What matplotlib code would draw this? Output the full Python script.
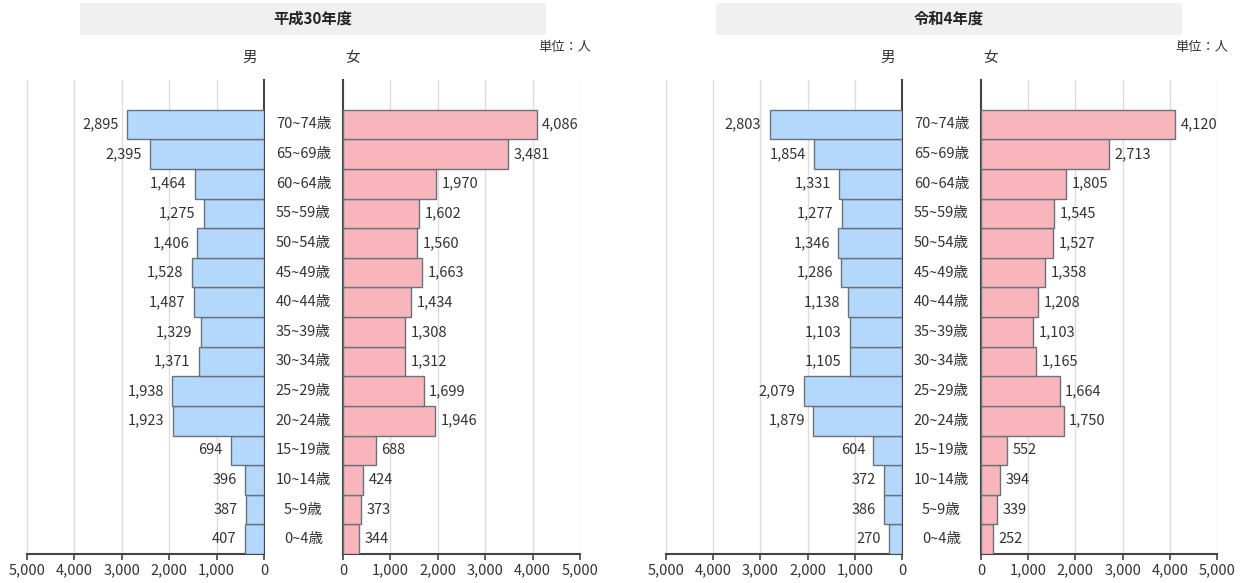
import matplotlib
matplotlib.use("Agg")
import matplotlib.pyplot as plt
from matplotlib.patches import Rectangle
from matplotlib.ticker import FuncFormatter
from matplotlib.transforms import blended_transform_factory

plt.rcParams['font.family'] = ['Noto Sans CJK JP', 'DejaVu Sans']

ages = ["0~4歳", "5~9歳", "10~14歳", "15~19歳", "20~24歳", "25~29歳", "30~34歳",
        "35~39歳", "40~44歳", "45~49歳", "50~54歳", "55~59歳", "60~64歳", "65~69歳", "70~74歳"]

h30_male = [407, 387, 396, 694, 1923, 1938, 1371, 1329, 1487, 1528, 1406, 1275, 1464, 2395, 2895]
h30_female = [344, 373, 424, 688, 1946, 1699, 1312, 1308, 1434, 1663, 1560, 1602, 1970, 3481, 4086]
r4_male = [270, 386, 372, 604, 1879, 2079, 1105, 1103, 1138, 1286, 1346, 1277, 1331, 1854, 2803]
r4_female = [252, 339, 394, 552, 1750, 1664, 1165, 1103, 1208, 1358, 1527, 1545, 1805, 2713, 4120]

titles = ["平成30年度", "令和4年度"]
ticks = [0, 1000, 2000, 3000, 4000, 5000]

W, H = 1242, 583
fig = plt.figure(figsize=(W / 100, H / 100), dpi=100)

MALE_C = "#B3D8FB"
FEMALE_C = "#F8B6BC"
EDGE = "#6A717A"
TXT = "#333333"
FS = 10.5
fmt = FuncFormatter(lambda v, p: f"{int(v):,}")

def fx(px):
    return px / W

def fy(py):
    return 1 - py / H

y_top, y_bot = 80, 554

panels = [
    (titles[0], h30_male, h30_female, 27, 264, 343, 580, 80, 546),
    (titles[1], r4_male, r4_female, 666, 902, 981, 1217, 716, 1182),
]

for title, male, female, mx0, mx1, fx0, fx1, tx0, tx1 in panels:
    axm = fig.add_axes([fx(mx0), fy(y_bot), fx(mx1 - mx0), (y_bot - y_top) / H])
    axf = fig.add_axes([fx(fx0), fy(y_bot), fx(fx1 - fx0), (y_bot - y_top) / H])
    pos = list(range(len(ages)))
    for ax, vals, col, side in [(axm, male, MALE_C, "m"), (axf, female, FEMALE_C, "f")]:
        ax.barh(pos, vals, height=1.0, color=col, edgecolor=EDGE, linewidth=1.0, zorder=3)
        ax.set_xlim(0, 5000)
        ax.set_ylim(-0.5, 15.5)
        ax.set_xticks(ticks)
        ax.xaxis.set_major_formatter(fmt)
        ax.set_yticks([])
        ax.grid(axis="x", color="#DDDDDD", linewidth=1.0, zorder=0)
        ax.set_axisbelow(True)
        for s in ["top", "left", "right"]:
            ax.spines[s].set_visible(False)
        ax.spines["bottom"].set_color("#444444")
        ax.spines["bottom"].set_linewidth(1.5)
        ax.tick_params(axis="x", length=4, width=1.2, color="#444444", labelsize=FS,
                       labelcolor=TXT, pad=3)
        for p, v in zip(pos, vals):
            if side == "m":
                ax.annotate(f"{v:,}", (v, p), xytext=(-6, 0), textcoords="offset points",
                            ha="right", va="center", fontsize=FS, color=TXT)
            else:
                ax.annotate(f"{v:,}", (v, p), xytext=(4, 0), textcoords="offset points",
                            ha="left", va="center", fontsize=FS, color=TXT)
    axm.invert_xaxis()
    axm.spines["right"].set_visible(True)
    axm.spines["right"].set_color("#444444")
    axm.spines["right"].set_linewidth(1.5)
    axf.spines["left"].set_visible(True)
    axf.spines["left"].set_color("#444444")
    axf.spines["left"].set_linewidth(1.5)
    # age labels in the middle
    cx = (mx1 + fx0) / 2
    tr = blended_transform_factory(fig.transFigure, axf.transData)
    for p, a in zip(pos, ages):
        fig.text(fx(cx), p, a, transform=tr, ha="center", va="center",
                 fontsize=FS, color=TXT)
    # title box
    fig.patches.append(Rectangle((fx(tx0), fy(35)), fx(tx1 - tx0), (35 - 3) / H,
                                 transform=fig.transFigure, facecolor="#F0F0F0",
                                 edgecolor="none", zorder=0))
    fig.text(fx((tx0 + tx1) / 2), fy(19), title, ha="center", va="center",
             fontsize=11, fontweight="bold", color="#222222")
    fig.text(fx(mx1 - 14), fy(58), "男", ha="center", va="center", fontsize=FS, color=TXT)
    fig.text(fx(fx0 + 10), fy(58), "女", ha="center", va="center", fontsize=FS, color=TXT)
    fig.text(fx(fx1 + 11), fy(47), "単位：人", ha="right", va="center", fontsize=9.5, color=TXT)

fig.savefig("out.png", dpi=100, facecolor="white")
